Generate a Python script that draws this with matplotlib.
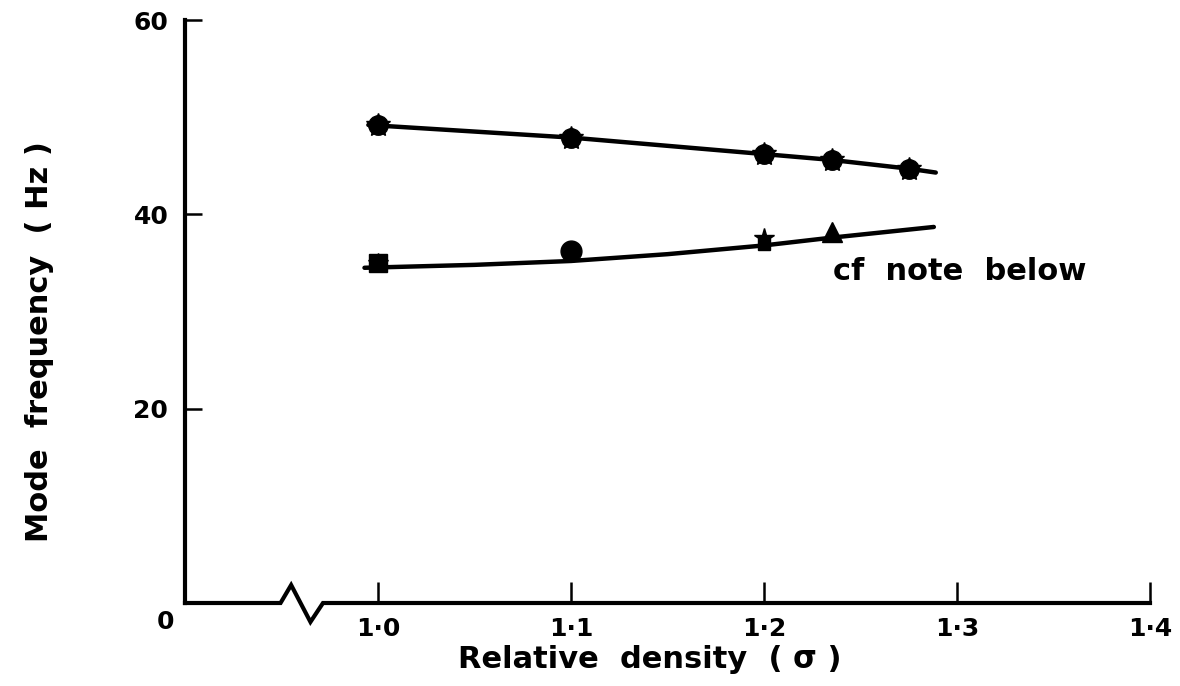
import matplotlib.pyplot as plt

plt.rcParams['font.family'] = ['DejaVu Sans']

# upper mode
upper_density = [1.0, 1.1, 1.2, 1.235, 1.275]
upper_freq = [49.2, 47.9, 46.2, 45.6, 44.7]
upper_line_x = [0.995, 1.1, 1.2, 1.235, 1.275, 1.289]
upper_line_y = [49.2, 47.9, 46.2, 45.6, 44.7, 44.3]

# lower mode
lower_square_x = [1.0, 1.2]
lower_square_y = [35.0, 36.9]
lower_star_x = [1.0, 1.2]
lower_star_y = [35.0, 37.6]
lower_circle_x = [1.1]
lower_circle_y = [36.2]
lower_tri_x = [1.235]
lower_tri_y = [38.2]
lower_line_x = [0.993, 1.05, 1.1, 1.15, 1.2, 1.235, 1.288]
lower_line_y = [34.5, 34.8, 35.2, 35.9, 36.8, 37.6, 38.7]

xticks = [1.0, 1.1, 1.2, 1.3, 1.4]
xtick_labels = ['1·0', '1·1', '1·2', '1·3', '1·4']
yticks = [20, 40, 60]
ytick_labels = ['20', '40', '60']

fig = plt.figure(figsize=(11.8, 6.86), dpi=100)
ax = fig.add_axes([185 / 1180, 1 - 603 / 686, 965 / 1180, 583 / 686])
ax.set_xlim(0.9, 1.4)
ax.set_ylim(0, 60)

ax.plot(upper_line_x, upper_line_y, color='black', lw=3.2, solid_capstyle='round')
ax.plot(upper_density, upper_freq, 'o', color='black', ms=14)
ax.plot(upper_density, upper_freq, '*', color='black', ms=18)

ax.plot(lower_line_x, lower_line_y, color='black', lw=3.2, solid_capstyle='round')
ax.plot(lower_square_x[:1], lower_square_y[:1], 's', color='black', ms=13)
ax.plot(lower_square_x[1:], lower_square_y[1:], 's', color='black', ms=9)
ax.plot(lower_star_x, lower_star_y, '*', color='black', ms=15)
ax.plot(lower_circle_x, lower_circle_y, 'o', color='black', ms=15)
ax.plot(lower_tri_x, lower_tri_y, '^', color='black', ms=15)

ax.text(1.236, 35.6, 'cf  note  below', fontsize=22, fontweight='bold', va='top', ha='left')

# axes
for s in ['top', 'right', 'bottom']:
    ax.spines[s].set_visible(False)
ax.spines['left'].set_linewidth(3)
ax.spines['left'].set_capstyle('projecting')

# bottom axis with break mark
brk_x = [0.9, 0.9495, 0.955, 0.965, 0.9715, 1.4]
brk_y = [0, 0, 1.85, -1.95, 0, 0]
ax.plot(brk_x, brk_y, color='black', lw=3, clip_on=False, solid_joinstyle='miter')

ax.set_xticks(xticks)
ax.set_xticklabels(xtick_labels)
ax.set_yticks(yticks)
ax.set_yticklabels(ytick_labels)
ax.tick_params(axis='both', direction='in', length=12, width=1.8, labelsize=18)
ax.tick_params(axis='x', length=15, pad=10)
ax.tick_params(axis='y', pad=12)
for lab in ax.get_xticklabels() + ax.get_yticklabels():
    lab.set_fontweight('bold')

fig.text(165 / 1180, 1 - 622 / 686, '0', fontsize=18, fontweight='bold', ha='center', va='center')
fig.text(650 / 1180, 1 - 660 / 686, 'Relative  density  ( σ )', fontsize=22, fontweight='bold',
         ha='center', va='center')
fig.text(40 / 1180, 1 - 342 / 686, 'Mode  frequency  ( Hz )', fontsize=22, fontweight='bold',
         ha='center', va='center', rotation=90)

fig.savefig('out.png', dpi=100)
